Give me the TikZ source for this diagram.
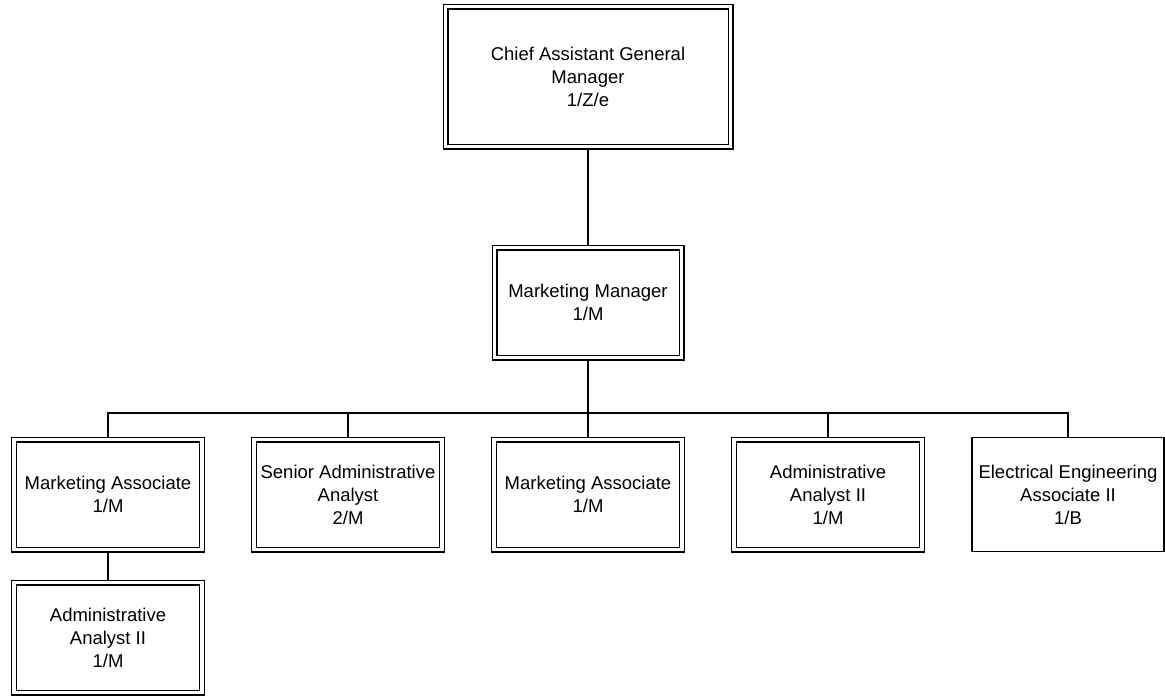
\documentclass[tikz,border=0pt]{standalone}
\usepackage{fontspec}
\setmainfont{Liberation Sans}
\begin{document}
\begin{tikzpicture}[x=1pt, y=-1pt,
    post/.style={draw, double, double distance=3.6pt, line width=1.2pt, outer sep=2.5pt,
      align=center, inner sep=0pt, minimum width=188pt, minimum height=110pt,
      font=\fontsize{18.5}{23}\selectfont},
    postsingle/.style={draw, line width=1.2pt, align=center, inner sep=0pt,
      minimum width=192pt, minimum height=114pt, font=\fontsize{18.5}{23}\selectfont},
    link/.style={line width=2pt}]
        \useasboundingbox (0,0) rectangle (1165,696);

        % Topo
        \node[post, minimum width=285pt, minimum height=140pt] (gm) at (588,76.5) {Chief Assistant General\\Manager\\1/Z/e};
        \node[post, minimum width=187pt] (mm) at (588,302.5) {Marketing Manager\\1/M};

        % Subordinados
        \node[post] (ma1) at (108,494.5) {Marketing Associate\\1/M};
        \node[post] (saa) at (348,494.5) {Senior Administrative\\Analyst\\2/M};
        \node[post] (ma2) at (588,494.5) {Marketing Associate\\1/M};
        \node[post] (aa1) at (828,494.5) {Administrative\\Analyst II\\1/M};
        \node[postsingle] (eea) at (1068,494.5) {Electrical Engineering\\Associate II\\1/B};
        \node[post] (aa2) at (108,637.5) {Administrative\\Analyst II\\1/M};

        % Linhas
        \coordinate (bus) at (588,413);
        \draw[link] (gm) -- (mm);
        \draw[link] (mm) -- (bus);
        \foreach \c in {ma1,saa,ma2,aa1,eea}
          \draw[link] (bus) -| (\c);
        \draw[link] (ma1) -- (aa2);
      \end{tikzpicture}
\end{document}
